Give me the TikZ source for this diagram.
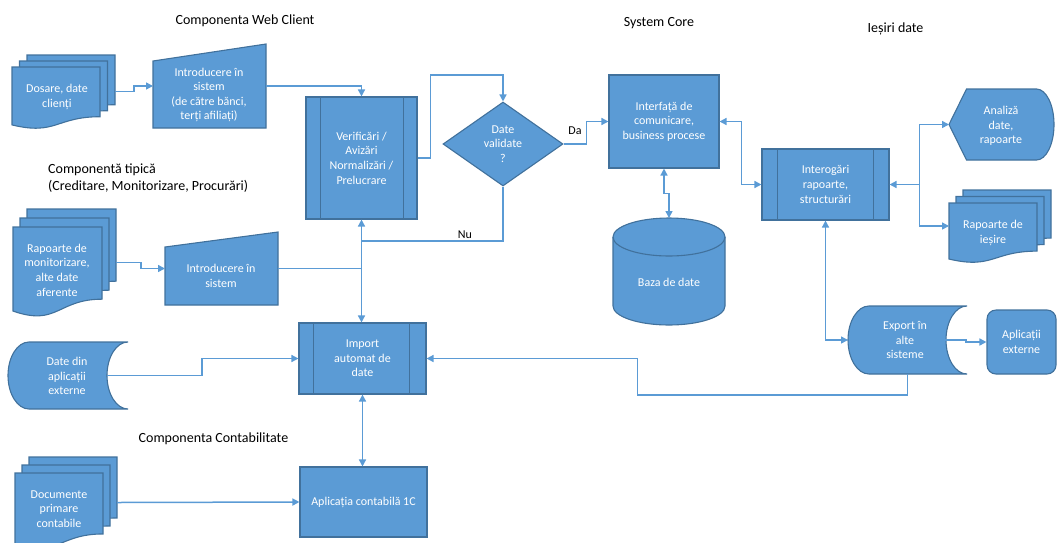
\documentclass[tikz,border=0pt]{standalone}
\usepackage{fontspec}
\setmainfont{Carlito}
\usetikzlibrary{arrows.meta,calc,shapes.geometric}
\definecolor{bfill}{HTML}{5B9BD5}
\definecolor{bline}{HTML}{41719C}
\definecolor{cline}{HTML}{5B9BD5}
\tikzset{
  shp/.style={fill=bfill, draw=bline, line width=1.1pt},
  bd/.style={draw=bline, line width=1.1pt},
  txt/.style={text=white, font=\fontsize{12}{14.6}\selectfont, align=center, inner sep=0pt},
  inv/.style={inner sep=0pt, outer sep=0pt, draw=none, fill=none, rectangle},
  boxn/.style={shp, txt, rectangle},
  con/.style={draw=cline, line width=1.5pt},
  arr/.style={con, -{Triangle[length=7pt,width=7pt]}},
  darr/.style={con, {Triangle[length=7pt,width=7pt]}-{Triangle[length=7pt,width=7pt]}},
  ttl/.style={font=\fontsize{14}{17}\selectfont, text=black, inner sep=0pt},
  lab/.style={font=\fontsize{12}{14}\selectfont, text=black, inner sep=0pt},
}
\newcommand\docshape[4]{%
  \filldraw[shp] ({#1},{#2}) -- ({#1+#3},{#2}) -- ({#1+#3},{#2+0.802*#4})
    .. controls ({#1+0.5*#3},{#2+0.802*#4}) and ({#1+0.5*#3},{#2+1.1075*#4}) .. ({#1},{#2+0.934*#4}) -- cycle;}
\newcommand\mdoc[6]{%
  \docshape{#1+2*#5}{#2-2*#6}{#3}{#4}%
  \docshape{#1+#5}{#2-#6}{#3}{#4}%
  \docshape{#1}{#2}{#3}{#4}}
\begin{document}
\begin{tikzpicture}[x=1pt,y=-1pt]
\useasboundingbox (0,0) rectangle (1057,542);
\clip (0,0) rectangle (1057,542);

% titles
\node[ttl] (t1) at (245,21) {Componenta Web Client};
\node[ttl] (t2) at (659,23) {System Core};
\node[ttl] (t3) at (895.5,29) {Ieșiri date};
\node[ttl, anchor=west, align=left] (t4) at (48,178.5) {Componentă tipică\\(Creditare, Monitorizare, Procurări)};
\node[ttl] (t5) at (213.5,439) {Componenta Contabilitate};

% Dosare
\mdoc{12}{67}{88}{62}{7.5}{6}
\node[inv, minimum width=103pt, minimum height=73pt] (dosare) at (63.5,91.6) {};
\node[txt] (dosaret) at (57,97) {Dosare, date\\clienți};

% Introducere 1
\filldraw[shp] (153,61) -- (266,44) -- (266,128) -- (153,128) -- cycle;
\node[inv, minimum width=113pt, minimum height=84pt] (intro1) at (209.5,86) {};
\node[txt] (intro1t) at (209,95) {Introducere în\\sistem\\(de către bănci,\\terți afiliați)};

% Verificari
\node[boxn, minimum width=111pt, minimum height=122pt] (verif) at (361.5,158) {Verificări /\\Avizări\\Normalizări /\\Prelucrare};
\draw[bd] ([xshift=15pt]verif.north west) -- ([xshift=15pt]verif.south west);
\draw[bd] ([xshift=-14pt]verif.north east) -- ([xshift=-14pt]verif.south east);

% Decision
\node[shp, txt, diamond, aspect=1.43, minimum width=120pt, minimum height=84pt] (dia) at (503,144) {Date\\validate\\?};

% Interfata
\node[boxn, minimum width=110pt, minimum height=93pt] (interf) at (664,121.5) {Interfață de\\comunicare,\\business procese};

% Baza de date
\filldraw[shp] (613,237) -- (613,306) arc[start angle=180, end angle=0, x radius=56, y radius=19] -- (725,237) arc[start angle=0, end angle=-180, x radius=56, y radius=19] -- cycle;
\draw[bd] (613,237) arc[start angle=180, end angle=0, x radius=56, y radius=19];
\node[inv, minimum width=112pt, minimum height=107pt] (baza) at (669,271.5) {};
\node[txt] (bazat) at (669,282) {Baza de date};

% Interogari
\node[boxn, minimum width=127pt, minimum height=71pt] (inter) at (825.5,184.5) {Interogări\\rapoarte,\\structurări};
\draw[bd] ([xshift=16pt]inter.north west) -- ([xshift=16pt]inter.south west);
\draw[bd] ([xshift=-16pt]inter.north east) -- ([xshift=-16pt]inter.south east);

% Analiza
\filldraw[shp] (949,124.5) -- (966.5,89) -- (1036.5,89) arc[start angle=-90, end angle=90, x radius=17.5, y radius=35.5] -- (966.5,160) -- cycle;
\node[inv, minimum width=105pt, minimum height=71pt] (analiza) at (1001.5,124.5) {};
\node[txt] (analizat) at (1001,126) {Analiză\\date,\\rapoarte};

% Rapoarte de iesire
\mdoc{949}{203}{88}{60}{7}{6.5}
\node[inv, minimum width=102pt, minimum height=72pt] (rapies) at (1000,226) {};
\node[txt] (rapiest) at (993,233) {Rapoarte de\\ieșire};

% Export
\filldraw[shp] (869,306) -- (967,306) arc[start angle=-90, end angle=-270, x radius=21, y radius=34] -- (869,374) arc[start angle=90, end angle=270, x radius=21, y radius=34] -- cycle;
\node[inv, minimum width=119pt, minimum height=68pt] (export) at (907.5,340) {};
\node[txt] (exportt) at (905,340) {Export în\\alte\\sisteme};

% Aplicatii externe
\node[boxn, rounded corners=9pt, minimum width=69pt, minimum height=64pt] (aplext) at (1021.5,342) {Aplicații\\externe};

% Rapoarte de monitorizare
\mdoc{13}{227}{89}{90}{7}{9}
\node[inv, minimum width=103pt, minimum height=107pt] (rapmon) at (64.5,262.4) {};
\node[txt] (rapmont) at (57,270) {Rapoarte de\\monitorizare,\\alte date\\aferente};

% Introducere 2
\filldraw[shp] (165,247) -- (278,232) -- (278,305) -- (165,305) -- cycle;
\node[inv, minimum width=113pt, minimum height=73pt] (intro2) at (221.5,268.5) {};
\node[txt] (intro2t) at (221,276) {Introducere în\\sistem};

% Date din aplicatii externe
\filldraw[shp] (29,342) -- (128,342) arc[start angle=-90, end angle=-270, x radius=21, y radius=33.5] -- (29,409) arc[start angle=90, end angle=270, x radius=21, y radius=33.5] -- cycle;
\node[inv, minimum width=120pt, minimum height=67pt] (datedin) at (68,375.5) {};
\node[txt] (datedint) at (67,376) {Date din\\aplicații\\externe};

% Import
\node[boxn, minimum width=127pt, minimum height=71pt] (import) at (362.5,358.5) {Import\\automat de\\date};
\draw[bd] ([xshift=15pt]import.north west) -- ([xshift=15pt]import.south west);
\draw[bd] ([xshift=-17pt]import.north east) -- ([xshift=-17pt]import.south east);

% Aplicatia contabila
\node[boxn, minimum width=127pt, minimum height=70pt] (aplic) at (363.5,502) {Aplicația contabilă 1C};

% Documente
\mdoc{15}{473}{88}{76}{7}{8}
\node[inv, minimum width=102pt, minimum height=91pt] (docs) at (66,502.5) {};
\node[txt] (docst) at (59,509) {Documente\\primare\\contabile};

% connectors
\draw[arr] (dosare.east) -- ++(19,0) |- (intro1.west);
\draw[arr] (rapmon.east) -- ++(25,0) |- (intro2.west);
\draw[arr] (intro1.east) -| (verif.north);
\draw[arr] (verif.east) -- ++(13,0) -- ++(0,-83) -| (dia.north);
\draw[arr] (dia.east) -- ++(23,0) |- (interf.west);
\node[lab] (da) at (575,131) {Da};
\coordinate (nu) at (361.5,241);
\draw[con] (dia.south) |- (nu);
\node[lab] (nul) at (465,235) {Nu};
\coordinate (j) at (verif.south |- intro2.east);
\draw[con] (intro2.east) -- (j);
\draw[arr] (j) -- (verif.south);
\draw[arr] (j) -- (j |- import.north);
\draw[arr] ($(datedin.east)+(-21,0)$) -- ++(95,0) |- (import.west);
\draw[darr] (import.south) -- (import.south |- aplic.north);
\draw[arr] (docs.east) -- (aplic.west);
\draw[darr] (interf.south) -- ++(0,25) -| (baza.north);
\draw[darr] (interf.east) -- ++(22,0) |- (inter.west);
\coordinate (f) at ($(inter.east)+(30,0)$);
\draw[arr] (f) -- (inter.east);
\draw[arr] (f) |- (analiza.west);
\draw[arr] (f) |- (rapies.west);
\draw[darr] (inter.south) |- (export.west);
\draw[arr] ($(export.east)+(-22,0)$) -- ++(21,0) |- (aplext.west);
\draw[arr] (export.south) -- ++(0,21) -| ([xshift=211pt]import.east) -- (import.east);
\end{tikzpicture}
\end{document}
